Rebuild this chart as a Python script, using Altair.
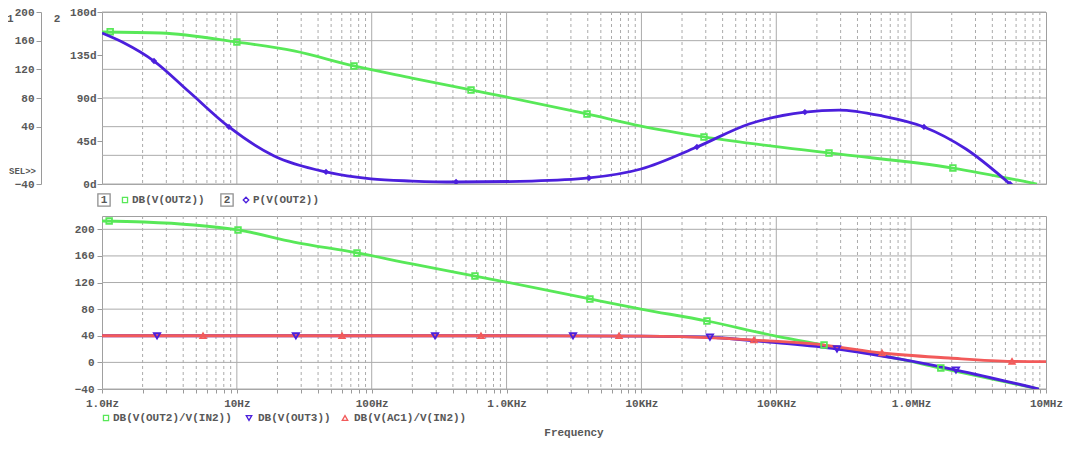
import altair as alt
import pandas as pd

# ---------------- data ----------------
# Top panel, axis 1: DB(V(OUT2))
top_green_f = [1, 2.74, 10, 26.5, 73.9, 199, 545, 991, 3950, 9930, 29100, 246000, 2040000, 8570000]
top_green_v = [172.1, 170.7, 158.1, 145.6, 124.7, 107.9, 91.2, 81.4, 57.7, 40.9, 25.6, 3.3, -17.7, -40]
top_green_mf = [1.15, 10, 73.9, 545, 3950, 29100, 246000, 2040000]
top_green_mv = [172.5, 158.1, 124.7, 91.2, 57.7, 25.6, 3.3, -17.7]

# Top panel, axis 2: P(V(OUT2)) in degrees
top_purple_f = [1, 1.46, 2.43, 4.42, 8.74, 18.9, 45.8, 98.8, 199, 422, 1543, 4080, 9930,
                25800, 62800, 163000, 292000, 608000, 1245000, 2550000, 5410000]
top_purple_v = [158.0, 147.6, 128.7, 96.5, 59.7, 29.3, 12.6, 5.3, 3.1, 2.1, 3.1, 6.3, 15.7,
                38.7, 62.8, 75.3, 77.4, 71.2, 59.7, 36.6, 0]
top_purple_mf = [2.43, 8.74, 45.8, 422, 4080, 25800, 163000, 1245000, 5410000]
top_purple_mv = [128.7, 59.7, 12.6, 2.1, 6.3, 38.7, 75.3, 59.7, 0]

# Lower panel: DB(V(OUT2)/V(IN2))
low_green_f = [1, 2.05, 4.81, 10.2, 26.5, 77.8, 199, 583, 991, 4150, 9930, 30600, 99500,
               226000, 813000, 1660000, 8870000]
low_green_v = [212.5, 211.0, 206.5, 199.0, 180.9, 164.4, 147.9, 129.8, 120.8, 95.3, 80.2, 62.2, 39.6,
               26.1, 5.1, -8.5, -40]
low_green_mf = [1.13, 10.2, 77.8, 583, 4150, 30600, 226000, 1660000]
low_green_mv = [212.5, 199.0, 164.4, 129.8, 95.3, 62.2, 26.1, -8.5]

# Lower panel: DB(V(OUT3))
low_purple_f = [1, 100, 1000, 10000, 32200, 37600, 99500, 282000, 813000, 2150000, 8870000]
low_purple_v = [40, 40, 40, 39.5, 38.0, 37.0, 29.6, 20.1, 5.1, -11.5, -40]
low_purple_mf = [2.56, 27.4, 295, 3110, 32200, 282000, 2150000]
low_purple_mv = [40, 40, 40, 40, 38.0, 20.1, -11.5]

# Lower panel: DB(V(AC1)/V(IN2))
low_red_f = [1, 1000, 10000, 37600, 68300, 226000, 608000, 1910000, 5600000, 10000000]
low_red_v = [40, 40, 39.5, 36.6, 33.6, 26.1, 14.1, 6.6, 1.5, 1.0]
low_red_mf = [5.61, 60.2, 646, 6820, 68300, 608000, 5600000]
low_red_mv = [40, 40, 40, 40, 33.6, 14.1, 1.5]

# Axes
freq_ticks = [1, 10, 100, 1000, 10000, 100000, 1000000, 10000000]
freq_labels = ["1.0Hz", "10Hz", "100Hz", "1.0KHz", "10KHz", "100KHz", "1.0MHz", "10MHz"]
minor_ticks = [m * d for d in freq_ticks[:-1] for m in range(2, 10)]
top_y1_ticks = [-40, 40, 80, 120, 160, 200]
top_y1_grid = [-40, 0, 40, 80, 120, 160, 200]
top_y2_ticks = [0, 45, 90, 135, 180]
low_y_ticks = [-40, 0, 40, 80, 120, 160, 200]

# ---------------- style ----------------
FONT = "Liberation Mono"
TXT = "#585858"
GRID = "#ababab"
GREEN = "#58e858"
PURPLE = "#4b1fdc"
RED = "#f25a5a"
W, H1, H2 = 944, 172, 173

xscale = alt.Scale(type="log", domain=[1, 10000000], nice=False)

label_expr = "''"
for v, l in reversed(list(zip(freq_ticks, freq_labels))):
    label_expr = f"datum.value == {v} ? '{l}' : ({label_expr})"

x_axis_low = alt.Axis(values=sorted(freq_ticks + minor_ticks), labelExpr=label_expr,
                      tickSize=4, labelPadding=4, domain=False, labelFlush=False,
                      labelOverlap=False, grid=False)


def X(axis):
    return alt.X("f:Q", scale=xscale, axis=axis, title=None)


def df(f, v):
    return pd.DataFrame({"f": f, "v": v})


def vgrid(axis):
    minor = alt.Chart(pd.DataFrame({"f": minor_ticks})).mark_rule(
        color=GRID, strokeDash=[3, 3], strokeWidth=1).encode(x=X(axis))
    major = alt.Chart(pd.DataFrame({"f": freq_ticks[1:-1]})).mark_rule(
        color=GRID, strokeWidth=1).encode(x=X(axis))
    return [minor, major]


def hgrid(vals, yenc):
    return alt.Chart(pd.DataFrame({"v": vals})).mark_rule(color=GRID, strokeWidth=1).encode(y=yenc)


def line(f, v, color, xax, yenc):
    return alt.Chart(df(f, v)).mark_line(color=color, strokeWidth=2.8, interpolate="monotone",
                                         clip=True).encode(x=X(xax), y=yenc)


def marks(f, v, color, shape, xax, yenc, filled=False, size=32):
    return alt.Chart(df(f, v)).mark_point(shape=shape, color=color, filled=filled, size=size,
                                          strokeWidth=1.8, opacity=1, clip=True).encode(x=X(xax), y=yenc)


def label(text, x, y, align="left", size=11, color=TXT):
    return alt.Chart(pd.DataFrame({"t": [text]})).mark_text(
        align=align, baseline="middle", font=FONT, fontSize=size, fontWeight="bold", color=color
    ).encode(x=alt.value(x), y=alt.value(y), text="t:N")


def sym(shape, color, x, y, filled=False, size=30):
    return alt.Chart(pd.DataFrame({"a": [0]})).mark_point(
        shape=shape, color=color, filled=filled, size=size, strokeWidth=1.3, opacity=1
    ).encode(x=alt.value(x), y=alt.value(y))


# ---------------- top panel ----------------
ax1 = alt.Axis(values=top_y1_ticks, orient="left", offset=61, tickSize=5, labelPadding=2,
               domain=True, grid=False)
ax2 = alt.Axis(values=top_y2_ticks, orient="left", labelExpr="datum.value + 'd'", offset=0,
               tickSize=5, labelPadding=1, domain=False, grid=False)
y1 = alt.Y("v:Q", scale=alt.Scale(domain=[-40, 200], nice=False, zero=False), axis=ax1, title=None)
y2 = alt.Y("v:Q", scale=alt.Scale(domain=[0, 180], nice=False, zero=False), axis=ax2, title=None)

layer_a = alt.layer(
    *vgrid(None),
    hgrid(top_y1_grid, y1),
    line(top_green_f, top_green_v, GREEN, None, y1),
    marks(top_green_mf, top_green_mv, GREEN, "square", None, y1),
    label("1", -95, 7),
    label("2", -45, 7, align="center"),
    label("SEL>>", -66, 159, align="right", size=9),
    sym("square", "#909090", 2, 188, size=150),
    label("1", 2, 188, align="center"),
    sym("square", GREEN, 23, 188, size=26),
    label("DB(V(OUT2))", 30, 188),
    sym("square", "#909090", 125, 188, size=150),
    label("2", 125, 188, align="center"),
    sym("diamond", PURPLE, 144, 188, size=30),
    label("P(V(OUT2))", 151, 188),
)
layer_b = alt.layer(
    line(top_purple_f, top_purple_v, PURPLE, None, y2),
    marks(top_purple_mf, top_purple_mv, PURPLE, "diamond", None, y2, filled=True, size=40),
)
top = alt.layer(layer_a, layer_b).resolve_scale(y="independent").properties(width=W, height=H1)

# ---------------- lower panel ----------------
axl = alt.Axis(values=low_y_ticks, tickSize=5, labelPadding=3, domain=False, grid=False)
yl = alt.Y("v:Q", scale=alt.Scale(domain=[-40, 220], nice=False, zero=False), axis=axl, title=None)

bottom = alt.layer(
    *vgrid(x_axis_low),
    hgrid(low_y_ticks, yl),
    line(low_green_f, low_green_v, GREEN, x_axis_low, yl),
    line(low_purple_f, low_purple_v, PURPLE, x_axis_low, yl),
    line(low_red_f, low_red_v, RED, x_axis_low, yl),
    marks(low_green_mf, low_green_mv, GREEN, "square", x_axis_low, yl),
    marks(low_purple_mf, low_purple_mv, PURPLE, "triangle-down", x_axis_low, yl, size=40),
    marks(low_red_mf, low_red_mv, RED, "triangle-up", x_axis_low, yl, size=30),
    sym("square", GREEN, 4, 202, size=26),
    label("DB(V(OUT2)/V(IN2))", 11, 202),
    sym("triangle-down", PURPLE, 147, 202, size=30),
    label("DB(V(OUT3))", 156, 202),
    sym("triangle-up", RED, 243, 202, size=30),
    label("DB(V(AC1)/V(IN2))", 252, 202),
    label("Frequency", 472, 217, align="center"),
).properties(width=W, height=H2)

chart = alt.vconcat(top, bottom, spacing=32, bounds="flush").properties(
    padding={"left": -2, "top": -3, "right": 0, "bottom": 0}, background="white"
).configure_view(stroke="#a0a0a0", strokeWidth=1).configure_axis(
    labelFont=FONT, labelFontSize=11, labelFontWeight="bold", labelColor=TXT,
    tickColor="#9a9a9a", domainColor="#9a9a9a"
)

chart.save("out.html", embed_options={"renderer": "svg", "actions": False})
